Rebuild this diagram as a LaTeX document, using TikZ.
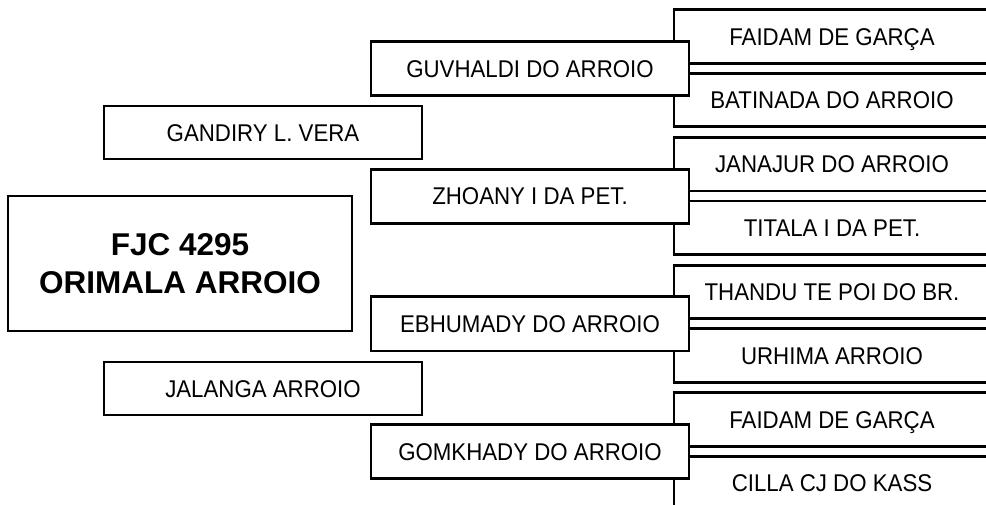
\documentclass[tikz,border=0pt]{standalone}
\usepackage{fontspec}
\setmainfont{Liberation Sans}
\newfontfamily\namefont{Liberation Sans}[FakeStretch=0.92]

\begin{document}
\begin{tikzpicture}[
  x=1pt, y=-1pt,
  every node/.style={draw, line width=2.8pt, inner sep=0pt, fill=white},
  capline/.style={font=\namefont\fontsize{24.2}{28}\selectfont, text height=17.3pt, text depth=0pt},
  dogbox/.style={minimum width=344pt, minimum height=135pt, align=center,
    font=\fontsize{31.5}{38}\selectfont\bfseries},
  parentbox/.style={capline, minimum width=318pt, minimum height=53pt},
  grandbox/.style={capline, minimum width=318pt, minimum height=54pt},
  greatbox/.style={capline, minimum width=316pt, minimum height=53.5pt}
]
\clip (0,0) rectangle (986,505);

% great-grandparents, open to the right
\node[greatbox] (sss) at (832,36.5)  {FAIDAM DE GARÇA};
\node[greatbox] (ssd) at (832,100)   {BATINADA DO ARROIO};
\node[greatbox] (sds) at (832,164.2) {JANAJUR DO ARROIO};
\node[greatbox] (sdd) at (832,227.7) {TITALA I DA PET.};
\node[greatbox] (dss) at (832,291.9) {THANDU TE POI DO BR.};
\node[greatbox] (dsd) at (832,355.4) {URHIMA ARROIO};
\node[greatbox] (dds) at (832,419.6) {FAIDAM DE GARÇA};
\node[greatbox] (ddd) at (832,483.1) {CILLA CJ DO KASS};

% grandparents
\node[grandbox] (ss) at (530,68.5)  {GUVHALDI DO ARROIO};
\node[grandbox] (sd) at (530,196.2) {ZHOANY I DA PET.};
\node[grandbox] (ds) at (530,323.9) {EBHUMADY DO ARROIO};
\node[grandbox] (dd) at (530,451.6) {GOMKHADY DO ARROIO};

% parents
\node[parentbox] (sire) at (263,132.5) {GANDIRY L. VERA};
\node[parentbox] (dam)  at (263,388.5) {JALANGA ARROIO};

% the dog
\node[dogbox] (dog) at (180,263.5) {FJC 4295\\ORIMALA ARROIO};
\end{tikzpicture}
\end{document}
